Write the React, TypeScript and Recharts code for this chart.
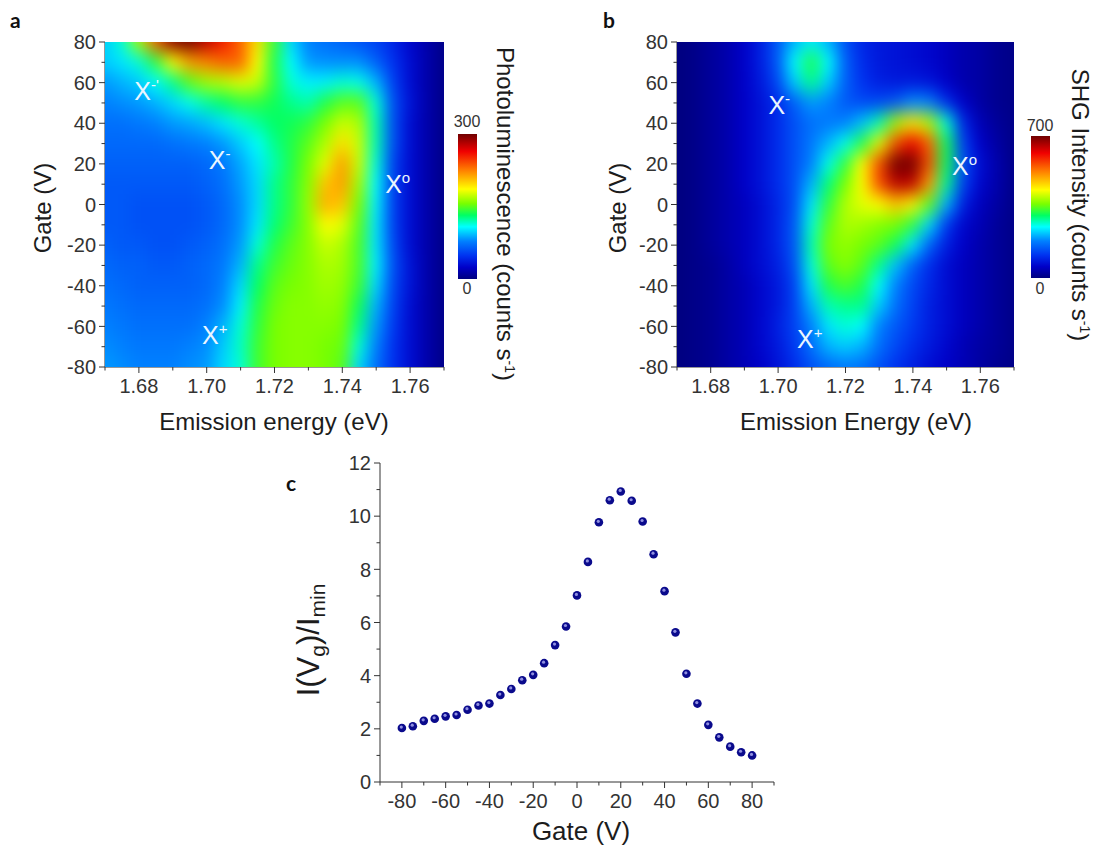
import { BarChart, Bar, ScatterChart, Scatter, XAxis, YAxis, ReferenceDot } from "recharts";

const energies = [1.67, 1.675, 1.68, 1.685, 1.69, 1.695, 1.7, 1.705, 1.71, 1.715, 1.72, 1.725, 1.73, 1.735, 1.74, 1.745, 1.75, 1.755, 1.76, 1.765, 1.77];
const gates = [80, 70, 60, 50, 40, 30, 20, 10, 0, -10, -20, -30, -40, -50, -60, -70, -80];

// percent of the colour bar, one row per gate value
const plGrid = [
  [32, 38, 55, 78, 97, 100, 93, 85, 78, 65, 48, 33, 26, 24, 22, 20, 18, 14, 9, 5, 1],
  [32, 34, 38, 47, 62, 72, 75, 78, 78, 62, 46, 36, 28, 27, 27, 27, 22, 16, 10, 5, 1],
  [28, 30, 32, 36, 42, 50, 55, 57, 60, 58, 47, 38, 35, 35, 38, 37, 30, 18, 10, 5, 1],
  [26, 27, 28, 30, 33, 37, 41, 44, 47, 47, 45, 42, 40, 46, 50, 50, 38, 20, 11, 5, 1],
  [24, 24, 25, 26, 28, 29, 31, 34, 38, 41, 44, 45, 47, 52, 58, 56, 40, 20, 10, 5, 1],
  [23, 23, 23, 23, 24, 25, 26, 28, 32, 36, 42, 46, 50, 56, 65, 58, 40, 20, 10, 5, 1],
  [22, 22, 22, 22, 22, 22, 23, 25, 29, 34, 40, 46, 52, 60, 72, 58, 38, 18, 10, 5, 1],
  [21, 21, 21, 21, 21, 21, 22, 24, 28, 33, 42, 47, 53, 68, 72, 55, 36, 18, 10, 5, 1],
  [21, 21, 20, 20, 20, 20, 21, 23, 27, 33, 42, 47, 54, 70, 68, 52, 35, 18, 10, 5, 1],
  [21, 21, 20, 20, 20, 20, 21, 23, 27, 34, 43, 48, 53, 62, 60, 50, 34, 18, 10, 5, 1],
  [22, 21, 21, 20, 20, 21, 22, 24, 28, 38, 46, 50, 53, 58, 56, 49, 34, 19, 10, 5, 1],
  [23, 22, 22, 21, 21, 22, 23, 25, 30, 42, 48, 51, 53, 56, 55, 49, 35, 20, 11, 5, 1],
  [24, 23, 22, 22, 22, 22, 23, 26, 33, 44, 50, 52, 53, 55, 54, 48, 33, 19, 11, 5, 1],
  [25, 24, 23, 23, 23, 23, 24, 27, 35, 46, 51, 53, 53, 54, 53, 45, 30, 18, 10, 5, 1],
  [26, 25, 24, 24, 24, 24, 26, 30, 38, 47, 52, 53, 53, 53, 52, 42, 28, 17, 10, 5, 1],
  [27, 26, 25, 25, 25, 26, 27, 32, 39, 48, 52, 53, 53, 52, 51, 38, 26, 16, 10, 5, 1],
  [28, 27, 26, 26, 26, 27, 28, 33, 38, 48, 52, 53, 53, 52, 50, 33, 24, 16, 10, 5, 1],
];

const shgGrid = [
  [0, 1, 3, 5, 8, 13, 21, 30, 35, 30, 20, 14, 12, 11, 10, 9, 7, 5, 4, 2, 1],
  [0, 1, 3, 5, 8, 13, 21, 36, 46, 36, 22, 15, 12, 11, 10, 9, 7, 5, 4, 2, 1],
  [0, 1, 3, 5, 8, 12, 19, 32, 42, 32, 22, 16, 13, 12, 12, 11, 8, 5, 4, 2, 1],
  [0, 1, 3, 5, 8, 11, 15, 22, 28, 26, 21, 19, 19, 21, 27, 26, 15, 8, 4, 2, 1],
  [0, 1, 3, 5, 8, 11, 15, 20, 24, 25, 26, 31, 40, 55, 64, 56, 38, 14, 6, 3, 1],
  [0, 1, 3, 5, 8, 11, 15, 20, 25, 30, 37, 46, 60, 80, 88, 78, 45, 18, 8, 4, 1],
  [0, 1, 3, 5, 8, 11, 15, 20, 26, 37, 47, 62, 80, 100, 100, 80, 45, 20, 10, 5, 1],
  [0, 1, 3, 5, 8, 11, 15, 20, 30, 43, 52, 62, 80, 93, 92, 72, 42, 18, 9, 5, 1],
  [0, 1, 3, 5, 7, 10, 14, 20, 34, 47, 56, 60, 62, 68, 63, 50, 30, 13, 7, 4, 1],
  [0, 1, 3, 5, 7, 10, 14, 21, 38, 50, 56, 55, 53, 52, 47, 33, 17, 9, 6, 3, 1],
  [0, 1, 3, 5, 7, 10, 14, 21, 40, 52, 54, 52, 50, 45, 34, 22, 13, 8, 5, 3, 1],
  [0, 1, 2, 4, 7, 10, 13, 20, 38, 50, 53, 50, 42, 31, 22, 15, 10, 7, 5, 3, 1],
  [0, 1, 2, 4, 6, 9, 12, 18, 34, 46, 49, 46, 36, 26, 19, 14, 10, 7, 5, 3, 1],
  [0, 1, 2, 4, 6, 9, 12, 18, 30, 40, 42, 42, 32, 24, 18, 13, 10, 7, 5, 3, 1],
  [0, 1, 2, 4, 6, 9, 13, 18, 26, 34, 38, 36, 26, 21, 17, 13, 10, 7, 5, 3, 1],
  [0, 1, 2, 4, 6, 9, 12, 17, 24, 30, 32, 30, 24, 19, 15, 12, 9, 6, 4, 3, 1],
  [0, 1, 2, 4, 6, 8, 11, 15, 20, 23, 25, 24, 20, 16, 13, 10, 8, 6, 4, 2, 1],
];

const gateSweep = [-80, -75, -70, -65, -60, -55, -50, -45, -40, -35, -30, -25, -20, -15, -10, -5, 0, 5, 10, 15, 20, 25, 30, 35, 40, 45, 50, 55, 60, 65, 70, 75, 80];
const ratio = [2.03, 2.1, 2.3, 2.38, 2.47, 2.52, 2.72, 2.88, 2.95, 3.27, 3.5, 3.83, 4.03, 4.47, 5.15, 5.85, 7.02, 8.28, 9.77, 10.6, 10.93, 10.58, 9.8, 8.57, 7.18, 5.63, 4.07, 2.95, 2.15, 1.68, 1.33, 1.12, 1.0];

const energyTicks = [1.67, 1.68, 1.69, 1.7, 1.71, 1.72, 1.73, 1.74, 1.75, 1.76, 1.77];
const energyLabels = [1.68, 1.7, 1.72, 1.74, 1.76];
const gateTicks = [-80, -70, -60, -50, -40, -30, -20, -10, 0, 10, 20, 30, 40, 50, 60, 70, 80];
const sweepTicks = [-90, -80, -70, -60, -50, -40, -30, -20, -10, 0, 10, 20, 30, 40, 50, 60, 70, 80, 90];
const ratioTicks = [0, 1, 2, 3, 4, 5, 6, 7, 8, 9, 10, 11, 12];

const plMarks = [
  { energy: 1.681, gate: 56, sup: "-'" },
  { energy: 1.703, gate: 22, sup: "-" },
  { energy: 1.755, gate: 10, sup: "o" },
  { energy: 1.701, gate: -64, sup: "+" },
];
const shgMarks = [
  { energy: 1.6995, gate: 49, sup: "-" },
  { energy: 1.754, gate: 19, sup: "o" },
  { energy: 1.708, gate: -66, sup: "+" },
];

const jet = ["#00007f", "#0000c8", "#0032f0", "#0080ff", "#00ffff", "#00ff64", "#78ff00", "#ffff00", "#ff7f00", "#f00000", "#700000"];
const jetPos = [0, 0.08, 0.16, 0.26, 0.36, 0.44, 0.52, 0.62, 0.75, 0.88, 1];

const INK = "#333";
const FONT = "'Liberation Sans', Arial, sans-serif";

function hexRgb(h: string) {
  return [1, 3, 5].map((i) => parseInt(h.slice(i, i + 2), 16));
}

function jetColor(pct: number) {
  const t = Math.min(1, Math.max(0, pct / 100));
  let i = 0;
  while (i < jet.length - 2 && t > jetPos[i + 1]) i++;
  const f = (t - jetPos[i]) / (jetPos[i + 1] - jetPos[i]);
  const a = hexRgb(jet[i]);
  const b = hexRgb(jet[i + 1]);
  return `rgb(${a.map((v, k) => Math.round(v + (b[k] - v) * f)).join(",")})`;
}

function gridPoints(grid: number[][]) {
  return gates.flatMap((gate, r) => energies.map((energy, c) => ({ energy, gate, level: grid[r][c], r, c })));
}

const CELL_W = 17;
const CELL_H = 20.3;
const BLEED = 30;

function HeatCell(props: any) {
  const { cx, cy, payload } = props;
  const { r, c, level } = payload;
  const left = cx - CELL_W / 2 - 0.5 - (c === 0 ? BLEED : 0);
  const right = cx + CELL_W / 2 + 0.5 + (c === energies.length - 1 ? BLEED : 0);
  const top = cy - CELL_H / 2 - 0.5 - (r === 0 ? BLEED : 0);
  const bottom = cy + CELL_H / 2 + 0.5 + (r === gates.length - 1 ? BLEED : 0);
  return <rect x={left} y={top} width={right - left} height={bottom - top} fill={jetColor(level)} />;
}

function tickMark(side: "left" | "bottom", fontSize: number, isMajor: (v: number) => boolean, fmt: (v: number) => string) {
  return (props: any) => {
    const { x, y, payload } = props;
    const major = isMajor(payload.value);
    const len = major ? 6 : 3.5;
    if (side === "left") {
      return (
        <g>
          <line x1={x} x2={x - len} y1={y} y2={y} stroke={INK} />
          {major && <text x={x - 9} y={y + fontSize * 0.36} textAnchor="end" fontSize={fontSize} fill={INK} fontFamily={FONT}>{fmt(payload.value)}</text>}
        </g>
      );
    }
    return (
      <g>
        <line x1={x} x2={x} y1={y} y2={y + len} stroke={INK} />
        {major && <text x={x} y={y + 12 + fontSize * 0.72} textAnchor="middle" fontSize={fontSize} fill={INK} fontFamily={FONT}>{fmt(payload.value)}</text>}
      </g>
    );
  };
}

function XMark(props: any) {
  const { cx, cy, sup } = props;
  return (
    <text x={cx - 8} y={cy + 9} fill="#eaf6ff" fontFamily={FONT} fontSize={25}>
      X<tspan fontSize={15} dy={-10}>{sup}</tspan>
    </text>
  );
}

function Label({ x, y, rotate = 0, size = 24, children }: any) {
  return (
    <text x={x} y={y} transform={rotate ? `rotate(${rotate} ${x} ${y})` : undefined} textAnchor="middle" fontSize={size} fill="#1c1c1c" fontFamily={FONT}>
      {children}
    </text>
  );
}

function Panel({ id, left, width, grid, marks, margin, children }: any) {
  const plotRight = width - margin.right;
  const plotBottom = 445 - margin.bottom - 60;
  const plotLeft = margin.left + 60;
  return (
    <div style={{ position: "absolute", left, top: 0 }}>
      <ScatterChart width={width} height={445} margin={margin}>
        <defs>
          <filter id={id} filterUnits="userSpaceOnUse" x={plotLeft - 40} y={0} width={plotRight - plotLeft + 80} height={plotBottom + 40} colorInterpolationFilters="sRGB">
            <feGaussianBlur stdDeviation="7.5 9" />
            <feOffset dx={0} dy={0} x={plotLeft} y={margin.top} width={plotRight - plotLeft} height={plotBottom - margin.top} />
          </filter>
        </defs>
        <XAxis
          dataKey="energy"
          type="number"
          domain={[1.67, 1.77]}
          ticks={energyTicks}
          interval={0}
          height={60}
          tickSize={0}
          tickMargin={0}
          stroke={INK}
          tick={tickMark("bottom", 20, (v) => energyLabels.includes(v), (v) => v.toFixed(2))}
        />
        <YAxis
          dataKey="gate"
          type="number"
          domain={[-80, 80]}
          ticks={gateTicks}
          interval={0}
          width={60}
          tickSize={0}
          tickMargin={0}
          stroke={INK}
          tick={tickMark("left", 20, (v) => v % 20 === 0, (v) => String(v))}
        />
        <XAxis xAxisId="frame" orientation="top" type="number" domain={[1.67, 1.77]} height={0} tick={false} stroke={INK} />
        <YAxis yAxisId="frame" orientation="right" type="number" domain={[-80, 80]} width={0} tick={false} stroke={INK} />
        <Scatter className={id} data={gridPoints(grid)} shape={HeatCell} isAnimationActive={false} />
        {marks.map((m: any) => (
          <ReferenceDot key={m.sup} x={m.energy} y={m.gate} r={0} shape={(p: any) => <XMark {...p} sup={m.sup} />} />
        ))}
        {children}
      </ScatterChart>
    </div>
  );
}

function ColorBar({ id, left, top, height, max }: any) {
  return (
    <div style={{ position: "absolute", left, top }}>
      <BarChart width={19} height={height} data={[{ name: "scale", top: max }]} margin={{ top: 0, right: 0, bottom: 0, left: 0 }} barCategoryGap={0}>
        <defs>
          <linearGradient id={id} x1="0" y1="0" x2="0" y2="1">
            {jet.map((c, i) => (
              <stop key={c} offset={1 - jetPos[i]} stopColor={c} />
            )).reverse()}
          </linearGradient>
        </defs>
        <XAxis dataKey="name" hide />
        <YAxis hide domain={[0, max]} />
        <Bar dataKey="top" fill={`url(#${id})`} isAnimationActive={false} />
      </BarChart>
    </div>
  );
}

function Dot(props: any) {
  const { cx, cy } = props;
  return (
    <g>
      <circle cx={cx} cy={cy} r={4.3} fill="#0a0a8c" />
      <circle cx={cx - 0.6} cy={cy - 1} r={1.6} fill="#8f8fe0" />
    </g>
  );
}

function Tag({ left, top, children }: any) {
  return (
    <div style={{ position: "absolute", left, top, font: "bold 21px Lato, sans-serif", color: "#111", lineHeight: "21px" }}>{children}</div>
  );
}

function Small({ left, top, children }: any) {
  return (
    <div style={{ position: "absolute", left, top, width: 40, textAlign: "center", fontFamily: FONT, fontSize: 16, color: INK, lineHeight: "16px" }}>{children}</div>
  );
}

export default function App() {
  const sweepData = gateSweep.map((gate, i) => ({ gate, ratio: ratio[i] }));
  return (
    <div style={{ position: "absolute", left: 0, top: 0, width: 1096, height: 852, background: "#fff", overflow: "hidden" }}>
      <style>{`.heatA { filter: url(#heatA); } .heatB { filter: url(#heatB); }`}</style>

      <Panel id="heatA" left={0} width={590} grid={plGrid} marks={plMarks} margin={{ top: 42, right: 146, bottom: 18, left: 45 }}>
        <Label x={274} y={430}>Emission energy (eV)</Label>
        <Label x={51} y={208} rotate={-90}>Gate (V)</Label>
        <Label x={497} y={214} rotate={90}>
          Photoluminescence (counts s<tspan fontSize={14} dy={-8}>-1</tspan><tspan dy={8}>)</tspan>
        </Label>
      </Panel>
      <ColorBar id="barA" left={458} top={134} height={145} max={300} />
      <Small left={447} top={114}>300</Small>
      <Small left={447} top={281}>0</Small>

      <Panel id="heatB" left={590} width={506} grid={shgGrid} marks={shgMarks} margin={{ top: 42, right: 82, bottom: 18, left: 27 }}>
        <Label x={266} y={430}>Emission Energy (eV)</Label>
        <Label x={36} y={208} rotate={-90}>Gate (V)</Label>
        <Label x={482} y={205} rotate={90}>
          SHG Intensity (counts s<tspan fontSize={14} dy={-8}>-1</tspan><tspan dy={8}>)</tspan>
        </Label>
      </Panel>
      <ColorBar id="barB" left={1031} top={136} height={142} max={700} />
      <Small left={1020} top={118}>700</Small>
      <Small left={1020} top={281}>0</Small>

      <div style={{ position: "absolute", left: 280, top: 450 }}>
        <ScatterChart width={530} height={402} margin={{ top: 13, right: 36, bottom: 10, left: 40 }}>
          <XAxis
            dataKey="gate"
            type="number"
            domain={[-90, 90]}
            ticks={sweepTicks}
            interval={0}
            height={60}
            tickSize={0}
            tickMargin={0}
            stroke={INK}
            tick={tickMark("bottom", 20, (v) => v !== 90 && v !== -90 && v % 20 === 0, (v) => String(v))}
          />
          <YAxis
            dataKey="ratio"
            type="number"
            domain={[0, 12]}
            ticks={ratioTicks}
            interval={0}
            width={60}
            tickSize={0}
            tickMargin={0}
            stroke={INK}
            tick={tickMark("left", 20, (v) => v % 2 === 0, (v) => String(v))}
          />
          <XAxis xAxisId="frame" orientation="top" type="number" domain={[-90, 90]} height={0} tick={false} stroke={INK} />
          <YAxis yAxisId="frame" orientation="right" type="number" domain={[0, 12]} width={0} tick={false} stroke={INK} />
          <Scatter data={sweepData} shape={Dot} isAnimationActive={false} />
          <Label x={301} y={390} size={26}>Gate (V)</Label>
          <text x={39} y={190} transform="rotate(-90 39 190)" textAnchor="middle" fontSize={31} fill="#1c1c1c" fontFamily={FONT}>
            I(V<tspan fontSize={21} dy={6}>g</tspan><tspan dy={-6}>)/I</tspan><tspan fontSize={21} dy={6}>min</tspan>
          </text>
        </ScatterChart>
      </div>

      <Tag left={10} top={9}>a</Tag>
      <Tag left={603} top={9}>b</Tag>
      <Tag left={286} top={472}>c</Tag>
    </div>
  );
}
